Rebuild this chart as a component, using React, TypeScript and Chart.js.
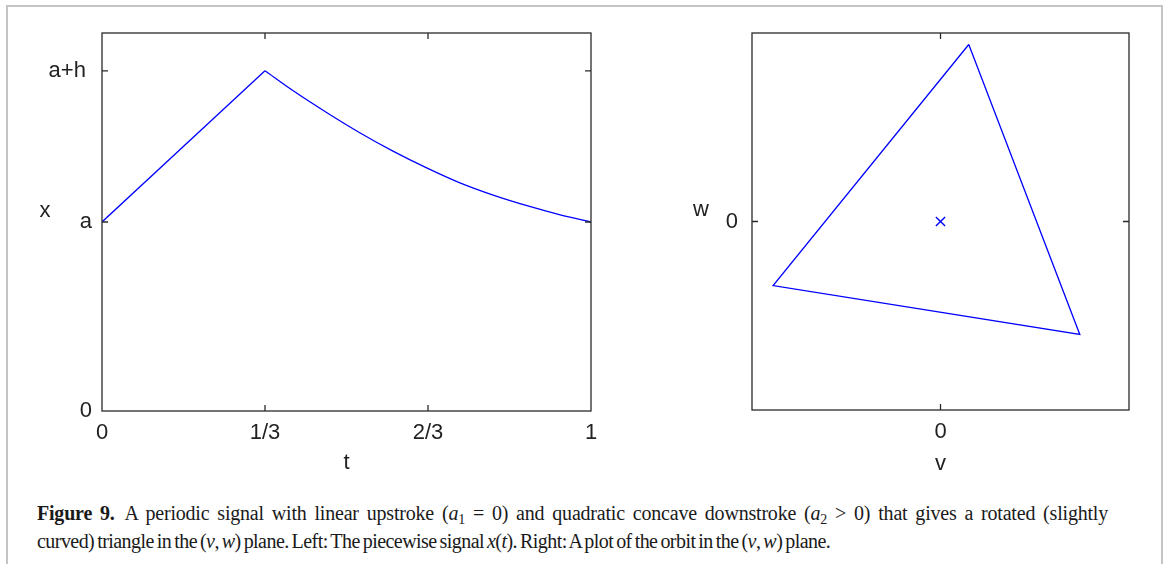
import React, { useEffect, useRef } from "react";
import { Chart, registerables } from "chart.js";

Chart.register(...registerables);

// ---- Left panel: piecewise signal x(t) ----
const tUp = [0, 1 / 3];
const xUp = [1.0, 1.8];
const tDown = [1 / 3, 0.391, 0.46, 0.528, 0.595, 0.665, 0.732, 0.8, 0.869, 0.937, 1];
const xDown = [1.8, 1.694, 1.578, 1.471, 1.375, 1.285, 1.207, 1.142, 1.086, 1.038, 1.0];
const tTickValues = [0, 1 / 3, 2 / 3, 1];
const tTickLabels = ["0", "1/3", "2/3", "1"];
const xTickValues = [0, 1, 1.8];
const xTickLabels = ["0", "a", "a+h "];

// ---- Right panel: orbit in (v, w) plane ----
const orbitV = [0.15, -0.888, 0.739, 0.15];
const orbitW = [0.939, -0.34, -0.599, 0.939];
const centerV = [0];
const centerW = [0];
const vTickValues = [0];
const vTickLabels = ["0"];
const wTickValues = [0];
const wTickLabels = ["0"];

const BLUE = "#0000ff";
const INK = "#222222";
const AXIS_FONT = { family: "'Liberation Sans', Arial, sans-serif", size: 22 };

const framePlugin = {
  id: "gnuFrame",
  afterDraw(chart: any, _args: any, opts: any) {
    const { ctx, chartArea } = chart;
    const { left, top, right, bottom } = chartArea;
    ctx.save();
    ctx.strokeStyle = "#2a2a2a";
    ctx.lineWidth = 1.3;
    ctx.strokeRect(left, top, right - left, bottom - top);
    const tl = 6;
    const xs = chart.scales.x;
    const ys = chart.scales.y;
    ctx.beginPath();
    xs.ticks.forEach((t: any) => {
      const px = xs.getPixelForValue(t.value);
      if (px > left + 1 && px < right - 1) {
        ctx.moveTo(px, bottom);
        ctx.lineTo(px, bottom - tl);
        ctx.moveTo(px, top);
        ctx.lineTo(px, top + tl);
      }
    });
    ys.ticks.forEach((t: any) => {
      const py = ys.getPixelForValue(t.value);
      if (py > top + 1 && py < bottom - 1) {
        ctx.moveTo(left, py);
        ctx.lineTo(left + tl, py);
        ctx.moveTo(right, py);
        ctx.lineTo(right - tl, py);
      }
    });
    ctx.stroke();
    // axis titles
    ctx.fillStyle = INK;
    ctx.font = `${AXIS_FONT.size}px ${AXIS_FONT.family}`;
    ctx.textAlign = "center";
    ctx.textBaseline = "alphabetic";
    ctx.fillText(opts.xTitle, (left + right) / 2 + opts.xTitleDx, bottom + opts.xTitleDy);
    ctx.fillText(opts.yTitle, left + opts.yTitleDx, (top + bottom) / 2 + opts.yTitleDy);
    ctx.restore();
  },
};

function makeScale(min: number, max: number, vals: number[], labels: string[], pad: number, fit: (s: any) => void) {
  return {
    type: "linear",
    min,
    max,
    afterBuildTicks: (s: any) => {
      s.ticks = vals.map((v) => ({ value: v }));
    },
    afterFit: fit,
    grid: { display: false, drawTicks: false, tickLength: 0 },
    border: { display: false },
    ticks: {
      color: INK,
      font: AXIS_FONT,
      padding: pad,
      maxRotation: 0,
      autoSkip: false,
      callback: (_v: any, i: number) => labels[i],
    },
  };
}

function SignalChart() {
  const ref = useRef<HTMLCanvasElement>(null);
  useEffect(() => {
    const chart = new Chart(ref.current as HTMLCanvasElement, {
      type: "line",
      data: {
        datasets: [
          {
            data: tUp.map((t, i) => ({ x: t, y: xUp[i] })),
            borderColor: BLUE,
            borderWidth: 1.3,
            pointRadius: 0,
            tension: 0,
          },
          {
            data: tDown.map((t, i) => ({ x: t, y: xDown[i] })),
            borderColor: BLUE,
            borderWidth: 1.3,
            pointRadius: 0,
            cubicInterpolationMode: "monotone",
          },
        ],
      } as any,
      options: {
        responsive: false,
        animation: false,
        events: [],
        layout: { padding: { top: 33, right: 29, bottom: 0, left: 0 } },
        plugins: {
          legend: { display: false },
          tooltip: { enabled: false },
          gnuFrame: { xTitle: "t", xTitleDx: 0, xTitleDy: 58, yTitle: "x", yTitleDx: -57, yTitleDy: -5 },
        } as any,
        scales: {
          x: makeScale(0, 1, tTickValues, tTickLabels, 9, (s: any) => {
            s.height = 69;
          }),
          y: makeScale(0, 2, xTickValues, xTickLabels, 10, (s: any) => {
            s.width = 102;
          }),
        } as any,
      },
      plugins: [framePlugin],
    });
    return () => chart.destroy();
  }, []);
  return <canvas ref={ref} width={620} height={480} style={{ position: "absolute", left: 0, top: 0 }} />;
}

function OrbitChart() {
  const ref = useRef<HTMLCanvasElement>(null);
  useEffect(() => {
    const chart = new Chart(ref.current as HTMLCanvasElement, {
      type: "line",
      data: {
        datasets: [
          {
            data: orbitV.map((v, i) => ({ x: v, y: orbitW[i] })),
            borderColor: BLUE,
            borderWidth: 1.3,
            pointRadius: 0,
            tension: 0,
          },
          {
            data: centerV.map((v, i) => ({ x: v, y: centerW[i] })),
            showLine: false,
            borderColor: BLUE,
            backgroundColor: BLUE,
            pointStyle: "crossRot",
            pointRadius: 6.5,
            pointBorderWidth: 1.4,
          },
        ],
      } as any,
      options: {
        responsive: false,
        animation: false,
        events: [],
        layout: { padding: { top: 33, right: 31, bottom: 0, left: 0 } },
        plugins: {
          legend: { display: false },
          tooltip: { enabled: false },
          gnuFrame: { xTitle: "v", xTitleDx: 0, xTitleDy: 60, yTitle: "w", yTitleDx: -51, yTitleDy: -6 },
        } as any,
        scales: {
          x: makeScale(-1, 1, vTickValues, vTickLabels, 9, (s: any) => {
            s.height = 70;
          }),
          y: makeScale(-1, 1, wTickValues, wTickLabels, 14, (s: any) => {
            s.width = 112;
          }),
        } as any,
      },
      plugins: [framePlugin],
    });
    return () => chart.destroy();
  }, []);
  return <canvas ref={ref} width={520} height={480} style={{ position: "absolute", left: 640, top: 0 }} />;
}

const captionStyle: React.CSSProperties = {
  position: "absolute",
  left: 37,
  top: 499,
  width: 1071,
  fontFamily: "'Liberation Serif', 'Times New Roman', serif",
  fontSize: 20,
  lineHeight: "28px",
  color: "#1a1a1a",
};

const line1Style: React.CSSProperties = {
  textAlign: "justify",
  textAlignLast: "justify" as any,
  whiteSpace: "normal",
  letterSpacing: "-0.2px",
};
const line2Style: React.CSSProperties = { whiteSpace: "nowrap", letterSpacing: "-0.55px", wordSpacing: "-1.5px" };
const subStyle: React.CSSProperties = { fontSize: "0.7em", verticalAlign: "-0.3em", lineHeight: 0 };

export default function App() {
  return (
    <div style={{ position: "fixed", left: 0, top: 0, width: 1165, height: 564, background: "#fff", overflow: "hidden" }}>
      <div
        style={{
          position: "absolute",
          left: 6,
          top: 5,
          width: 1153,
          height: 700,
          borderTop: "2px solid #c4c4c4",
          borderLeft: "2px solid #c4c4c4",
          borderRight: "2px solid #c4c4c4",
        }}
      />
      <SignalChart />
      <OrbitChart />
      <div style={captionStyle}>
        <div style={line1Style}>
          <b>Figure 9.</b>
          {"\u2002A periodic signal with linear upstroke ("}
          <i>a</i>
          <span style={subStyle}>1</span>
          {" = 0) and quadratic concave downstroke ("}
          <i>a</i>
          <span style={subStyle}>2</span>
          {" > 0) that gives a rotated (slightly"}
        </div>
        <div style={line2Style}>
          {"curved) triangle in the ("}
          <i>v</i>
          {", "}
          <i>w</i>
          {") plane. Left: The piecewise signal "}
          <i>x</i>
          {"("}
          <i>t</i>
          {"). Right: A plot of the orbit in the ("}
          <i>v</i>
          {", "}
          <i>w</i>
          {") plane."}
        </div>
      </div>
    </div>
  );
}
